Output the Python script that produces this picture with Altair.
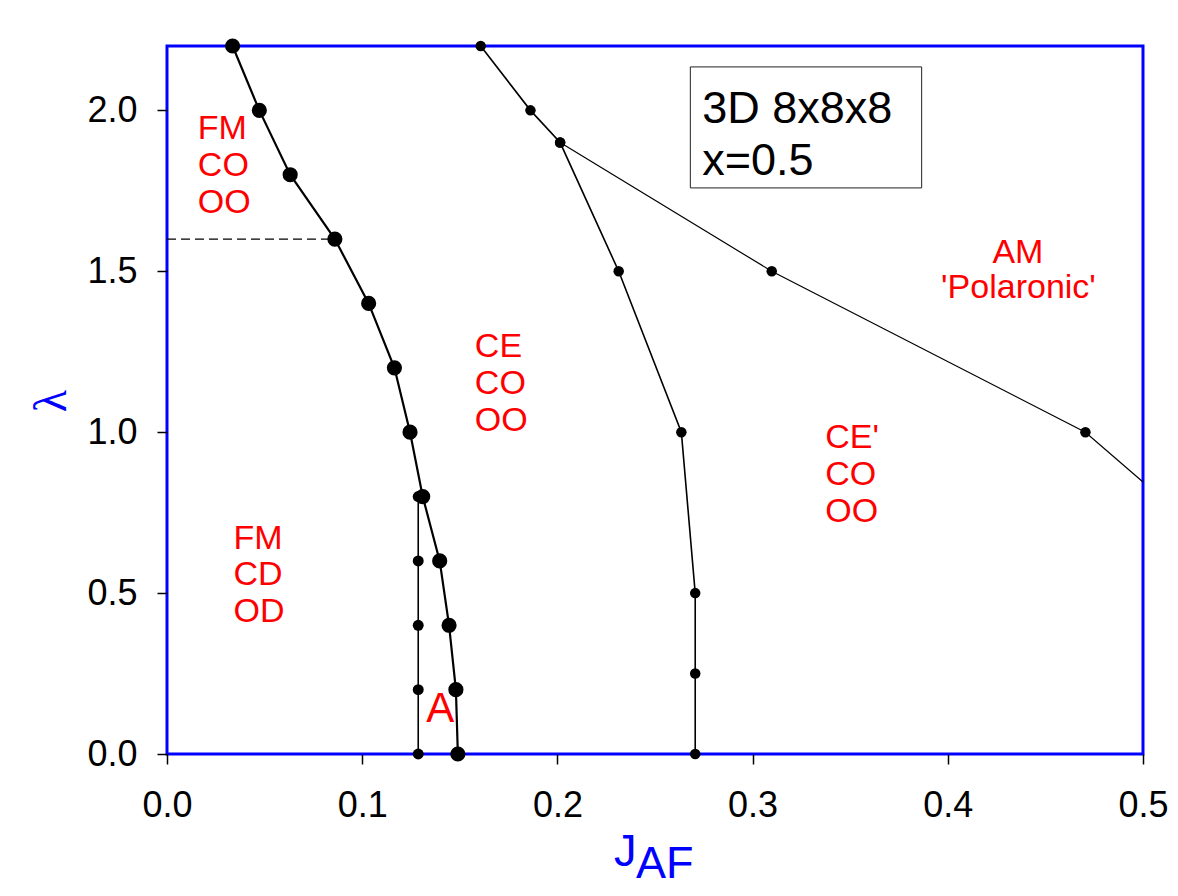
import altair as alt
import pandas as pd

# ---- data (J_AF, lambda) ----
# boundary FM / CE (large dots)
b1_j = [0.0336, 0.0473, 0.0631, 0.0860, 0.1033, 0.1165, 0.1245, 0.1310, 0.1397, 0.1445, 0.1480, 0.1490]
b1_lam = [2.2, 2.0, 1.8, 1.6, 1.4, 1.2, 1.0, 0.8, 0.6, 0.4, 0.2, 0.0]

# vertical boundary "A" (small dots)
bA_j = [0.1287, 0.1287, 0.1287, 0.1287, 0.1287]
bA_lam = [0.8, 0.6, 0.4, 0.2, 0.0]

# boundary CE / CE' (small dots)
b2_j = [0.1607, 0.1862, 0.2014, 0.2314, 0.2635, 0.2706, 0.2706, 0.2706]
b2_lam = [2.2, 2.0, 1.9, 1.5, 1.0, 0.5, 0.25, 0.0]

# boundary to AM 'Polaronic' (thin line, last point is the frame crossing)
b3_j = [0.2014, 0.3098, 0.4705, 0.5000]
b3_lam = [1.9, 1.5, 1.0, 0.845]

# dashed guide at lambda = 1.6
dash_j = [0.0, 0.086]
dash_lam = [1.6, 1.6]

# phase labels
lab_text = ["FM", "CO", "OO", "CE", "CO", "OO", "FM", "CD", "OD", "CE'", "CO", "OO"]
lab_j = [0.0158, 0.0158, 0.0158, 0.1577, 0.1577, 0.1577, 0.0341, 0.0341, 0.0341, 0.3372, 0.3372, 0.3372]
lab_lam = [1.911, 1.796, 1.681, 1.234, 1.119, 1.004, 0.637, 0.524, 0.410, 0.951, 0.836, 0.721]

am_text = ["AM", "'Polaronic'"]
am_j = [0.4359, 0.4362]
am_lam = [1.526, 1.417]

box_text = ["3D 8x8x8", "x=0.5"]
box_j = [0.2742, 0.2742]
box_lam = [1.961, 1.799]
box_x = [0.2681]
box_x2 = [0.3866]
box_y = [2.135]
box_y2 = [1.759]

a_text = ["A"]
a_j = [0.1328]
a_lam = [0.0994]

x_ticks = [0.0, 0.1, 0.2, 0.3, 0.4, 0.5]
y_ticks = [0.0, 0.5, 1.0, 1.5, 2.0]

BLUE = "#0000ff"
RED = "#ff0000"
FONT = "Liberation Sans"


def df(j, lam):
    return pd.DataFrame({"j": j, "lam": lam, "i": list(range(len(j)))})


xs = alt.Scale(domain=[0, 0.5], nice=False, zero=False)
ys = alt.Scale(domain=[0, 2.2], nice=False, zero=False)

X = alt.X("j:Q", scale=xs,
          axis=alt.Axis(values=x_ticks, format=".1f", title=None, labelPadding=24,
                        labelFlush=False, labelOverlap=False))
Y = alt.Y("lam:Q", scale=ys,
          axis=alt.Axis(values=y_ticks, format=".1f", title=None, labelPadding=20,
                        labelFlush=False, labelOverlap=False))


def line(d, width, dash=None):
    kw = dict(color="black", strokeWidth=width)
    if dash:
        kw["strokeDash"] = dash
    return alt.Chart(d).mark_line(**kw).encode(x=X, y=Y, order="i:Q")


def dots(d, size):
    return alt.Chart(d).mark_circle(color="black", opacity=1, size=size).encode(x=X, y=Y)


d1 = df(b1_j, b1_lam)
dA = df(bA_j, bA_lam)
d2 = df(b2_j, b2_lam)
d3 = df(b3_j, b3_lam)
dd = df(dash_j, dash_lam)

box = alt.Chart(pd.DataFrame({"x": box_x, "x2": box_x2, "y": box_y, "y2": box_y2})).mark_rect(
    fill="white", stroke="#222222", strokeWidth=1
).encode(x=alt.X("x:Q", scale=xs), x2="x2:Q", y=alt.Y("y:Q", scale=ys), y2="y2:Q")

box_lbl = alt.Chart(pd.DataFrame({"t": box_text, "j": box_j, "lam": box_lam})).mark_text(
    font=FONT, fontSize=45, color="black", align="left", baseline="alphabetic"
).encode(x=X, y=Y, text="t:N")

phase_lbl = alt.Chart(pd.DataFrame({"t": lab_text, "j": lab_j, "lam": lab_lam})).mark_text(
    font=FONT, fontSize=34, color=RED, align="left", baseline="alphabetic"
).encode(x=X, y=Y, text="t:N")

am_lbl = alt.Chart(pd.DataFrame({"t": am_text, "j": am_j, "lam": am_lam})).mark_text(
    font=FONT, fontSize=34, color=RED, align="center", baseline="alphabetic"
).encode(x=X, y=Y, text="t:N")

a_lbl = alt.Chart(pd.DataFrame({"t": a_text, "j": a_j, "lam": a_lam})).mark_text(
    font=FONT, fontSize=42, color=RED, align="left", baseline="alphabetic"
).encode(x=X, y=Y, text="t:N")

# axis titles (J with subscript AF, rotated lambda)
title_src = pd.DataFrame({"k": [0]})
ttl_lam = alt.Chart(title_src).mark_text(
    text="λ", font="Liberation Serif", fontSize=46, color=BLUE, angle=270,
    align="center", baseline="middle"
).encode(x=alt.value(-115), y=alt.value(355))
ttl_j = alt.Chart(title_src).mark_text(
    text="J", font=FONT, fontSize=45, color=BLUE, align="left", baseline="alphabetic"
).encode(x=alt.value(447), y=alt.value(820))
ttl_af = alt.Chart(title_src).mark_text(
    text="AF", font=FONT, fontSize=45, color=BLUE, align="left", baseline="alphabetic"
).encode(x=alt.value(469), y=alt.value(832))

chart = alt.layer(
    box,
    line(dd, 1.2, [9, 5]),
    line(d3, 1.2),
    dots(d3.iloc[:3], 110),
    line(d2, 1.6),
    dots(d2, 110),
    line(dA, 1.6),
    dots(dA, 120),
    line(d1, 2.2),
    dots(d1, 230),
    box_lbl,
    phase_lbl,
    am_lbl,
    a_lbl,
    ttl_lam,
    ttl_j,
    ttl_af,
).properties(
    width=976,
    height=708,
    autosize="none",
    padding={"left": 159, "top": 38, "right": 27, "bottom": 134},
    background="white",
).configure_view(
    stroke=BLUE, strokeWidth=3
).configure_axis(
    grid=False, domain=False, tickColor="black", tickSize=10, tickWidth=1.5,
    labelFont=FONT, labelFontSize=36, labelColor="black"
)

chart.save("out.html", embed_options={"renderer": "svg", "actions": False})
